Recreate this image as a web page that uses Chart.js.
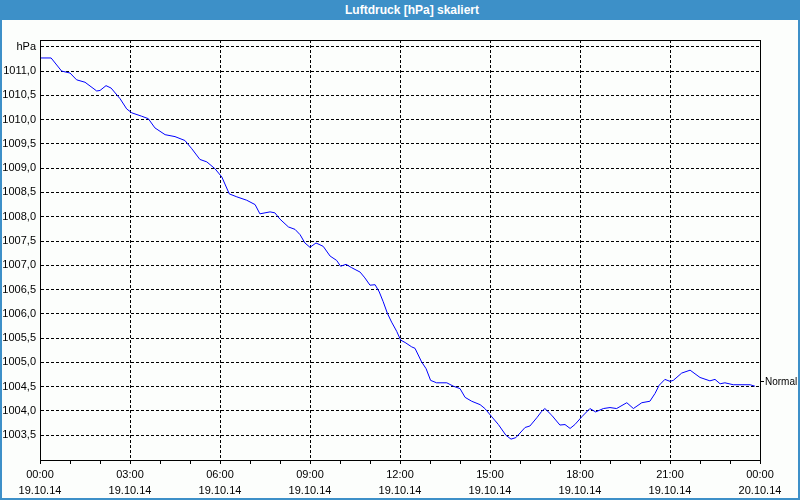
<!DOCTYPE html>
<html>
<head>
<meta charset="utf-8">
<script src="https://cdn.jsdelivr.net/npm/chart.js@4.4.1/dist/chart.umd.min.js"></script>
<style>
  html, body { margin: 0; padding: 0; background: #fff; }
  #frame { width: 800px; height: 500px; box-sizing: border-box; border: 2px solid #3d90c8; border-top: none; background: #fcfefc; position: relative; }
  #title { height: 20px; margin: 0 -2px; padding-left: 24px; background: #3d90c8; color: #fff; font: bold 12px "Liberation Sans", Arial, sans-serif; text-align: center; line-height: 20px; }
  #plot { position: absolute; left: 0; top: 20px; width: 796px; height: 478px; }
</style>
</head>
<body>
<div id="frame">
  <div id="title">Luftdruck [hPa] skaliert</div>
  <div id="plot"><canvas id="chart" width="796" height="478"></canvas></div>
</div>
<script>
// time in hours since 19.10.14 00:00
const hours = [
  0.00, 0.37, 0.72, 1.00, 1.22, 1.50, 1.89, 2.00, 2.20, 2.37, 2.67, 2.89, 3.06, 3.39, 3.61, 3.83,
  4.17, 4.50, 4.83, 5.06, 5.33, 5.56, 5.83, 6.06, 6.31, 6.56, 6.89, 7.17, 7.33, 7.67, 7.83, 8.00,
  8.28, 8.50, 8.67, 8.83, 9.00, 9.20, 9.44, 9.67, 9.89, 10.02, 10.20, 10.39, 10.67, 10.83, 11.00, 11.17,
  11.31, 11.44, 11.58, 11.72, 11.89, 12.02, 12.17, 12.39, 12.50, 12.72, 12.87, 13.02, 13.22, 13.56,
  13.78, 14.00, 14.17, 14.39, 14.67, 14.83, 15.06, 15.28, 15.53, 15.70, 15.86, 16.17, 16.33, 16.56,
  16.72, 16.83, 17.06, 17.33, 17.50, 17.67, 17.83, 18.06, 18.33, 18.52, 18.78, 19.00, 19.22, 19.56,
  19.78, 20.06, 20.33, 20.50, 20.64, 20.83, 21.00, 21.11, 21.39, 21.67, 22.00, 22.33, 22.50, 22.67,
  22.83, 23.11, 23.67, 23.83
];

// Luftdruck in hPa
const pressure = [
  1011.27, 1011.27, 1011.00, 1010.96, 1010.82, 1010.77, 1010.59, 1010.60, 1010.70, 1010.65, 1010.43, 1010.22, 1010.14, 1010.07, 1010.02, 1009.83,
  1009.69, 1009.65, 1009.57, 1009.40, 1009.18, 1009.13, 1008.99, 1008.82, 1008.47, 1008.41, 1008.34, 1008.25, 1008.06, 1008.10, 1008.08, 1007.95,
  1007.79, 1007.74, 1007.63, 1007.46, 1007.37, 1007.46, 1007.39, 1007.19, 1007.10, 1006.98, 1007.02, 1006.95, 1006.86, 1006.74, 1006.59, 1006.60,
  1006.45, 1006.25, 1006.01, 1005.83, 1005.64, 1005.46, 1005.41, 1005.32, 1005.29, 1005.01, 1004.87, 1004.63, 1004.58, 1004.58,
  1004.51, 1004.46, 1004.28, 1004.20, 1004.13, 1004.05, 1003.88, 1003.72, 1003.50, 1003.42, 1003.45, 1003.66, 1003.69, 1003.86,
  1003.99, 1004.05, 1003.91, 1003.71, 1003.72, 1003.64, 1003.72, 1003.88, 1004.05, 1003.98, 1004.05, 1004.07, 1004.05, 1004.17,
  1004.05, 1004.17, 1004.20, 1004.36, 1004.53, 1004.65, 1004.61, 1004.63, 1004.78, 1004.84, 1004.69, 1004.62, 1004.65, 1004.56,
  1004.58, 1004.54, 1004.54, 1004.51
];

const yTickValues = [1003.5, 1004.0, 1004.5, 1005.0, 1005.5, 1006.0, 1006.5, 1007.0, 1007.5, 1008.0, 1008.5, 1009.0, 1009.5, 1010.0, 1010.5, 1011.0, 1011.5];
const yTickLabels = ['1003,5', '1004,0', '1004,5', '1005,0', '1005,5', '1006,0', '1006,5', '1007,0', '1007,5', '1008,0', '1008,5', '1009,0', '1009,5', '1010,0', '1010,5', '1011,0', 'hPa'];

const xTickHours = [0, 3, 6, 9, 12, 15, 18, 21, 24];
const xTickLabels = [
  ['00:00', '19.10.14'], ['03:00', '19.10.14'], ['06:00', '19.10.14'], ['09:00', '19.10.14'],
  ['12:00', '19.10.14'], ['15:00', '19.10.14'], ['18:00', '19.10.14'], ['21:00', '19.10.14'],
  ['00:00', '20.10.14']
];

const normalValue = 1004.6;
const yMin = 1002.99;
const yMax = 1011.64;

const font = { family: '"Liberation Sans", Arial, sans-serif', size: 11 };

// solid frame round the plot area
const frame = {
  id: 'frame',
  afterDraw(chart) {
    const { ctx, chartArea } = chart;
    ctx.save();
    ctx.strokeStyle = '#000';
    ctx.lineWidth = 1;
    ctx.setLineDash([]);
    ctx.strokeRect(chartArea.left + 0.5, chartArea.top + 0.5, chartArea.right - chartArea.left, chartArea.bottom - chartArea.top);
    ctx.restore();
  }
};

new Chart(document.getElementById('chart'), {
  type: 'line',
  data: {
    datasets: [{
      data: hours.map((h, i) => ({ x: h, y: pressure[i] })),
      borderColor: '#0000ff',
      borderWidth: 1,
      pointRadius: 0,
      tension: 0,
      yAxisID: 'y'
    }]
  },
  options: {
    responsive: false,
    devicePixelRatio: 1,
    animation: false,
    layout: { padding: { top: 20, left: 0, right: 0, bottom: 0 } },
    plugins: {
      legend: { display: false },
      tooltip: { enabled: false }
    },
    scales: {
      x: {
        type: 'linear',
        min: 0,
        max: 24,
        afterBuildTicks: (scale) => {
          const t = [];
          for (let h = 0; h <= 24; h++) t.push({ value: h });
          scale.ticks = t;
        },
        afterFit: (scale) => { scale.height = 38; },
        ticks: {
          autoSkip: false,
          maxRotation: 0,
          color: '#000',
          font: { ...font, lineHeight: 1.45 },
          padding: 3,
          callback: (value) => {
            const i = xTickHours.indexOf(value);
            return i >= 0 ? xTickLabels[i] : '';
          }
        },
        grid: {
          color: (ctx) => (ctx.tick && ctx.tick.value % 3 === 0 ? '#000' : 'rgba(0,0,0,0)'),
          tickColor: '#000',
          tickLength: 4
        },
        border: { color: '#000', dash: [3, 2] }
      },
      y: {
        position: 'left',
        min: yMin,
        max: yMax,
        afterBuildTicks: (scale) => { scale.ticks = yTickValues.map(v => ({ value: v })); },
        afterFit: (scale) => { scale.width = 38; },
        ticks: {
          color: '#000',
          font,
          padding: 4,
          callback: (value) => yTickLabels[yTickValues.indexOf(value)]
        },
        grid: { color: '#000', drawTicks: false },
        border: { color: '#000', dash: [3, 2] }
      },
      y2: {
        position: 'right',
        min: yMin,
        max: yMax,
        afterBuildTicks: (scale) => { scale.ticks = [{ value: normalValue }]; },
        afterFit: (scale) => { scale.width = 38; },
        ticks: {
          color: '#000',
          font: { ...font, size: 10 },
          padding: 1,
          callback: () => 'Normal'
        },
        grid: { drawOnChartArea: false, color: '#000', tickLength: 4 },
        border: { display: false }
      }
    }
  },
  plugins: [frame]
});
</script>
</body>
</html>
